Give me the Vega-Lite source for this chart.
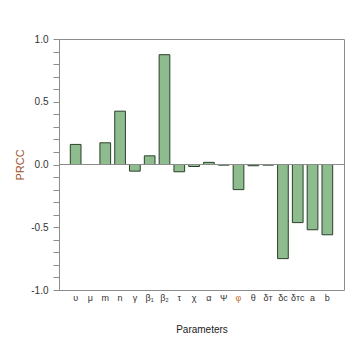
{
  "$schema": "https://vega.github.io/schema/vega-lite/v6.json",
  "width": 285,
  "height": 251,
  "autosize": {"type": "none"},
  "padding": {"left": 59, "top": 39, "right": 11, "bottom": 58},
  "background": "white",
  "config": {
    "view": {"stroke": "#8c8c8c", "strokeWidth": 1},
    "font": "Liberation Sans",
    "axis": {"labelFont": "Liberation Sans", "titleFont": "Liberation Sans", "grid": false}
  },
  "data": {
    "values": [
      {"param": "υ", "prcc": 0.16},
      {"param": "μ", "prcc": 0.0},
      {"param": "m", "prcc": 0.173},
      {"param": "n", "prcc": 0.425},
      {"param": "γ", "prcc": -0.053},
      {"param": "β₁", "prcc": 0.069},
      {"param": "β₂", "prcc": 0.875},
      {"param": "τ", "prcc": -0.058},
      {"param": "χ", "prcc": -0.016},
      {"param": "α", "prcc": 0.017},
      {"param": "Ψ", "prcc": -0.005},
      {"param": "φ", "prcc": -0.2},
      {"param": "θ", "prcc": -0.01},
      {"param": "δᴛ", "prcc": -0.005},
      {"param": "δᴄ", "prcc": -0.75},
      {"param": "δᴛᴄ", "prcc": -0.463},
      {"param": "a", "prcc": -0.52},
      {"param": "b", "prcc": -0.56}
    ]
  },
  "layer": [
    {
      "mark": {"type": "bar", "fill": "#8fbc8f", "stroke": "#2a402a", "strokeWidth": 1, "width": {"band": 0.85}},
      "encoding": {
        "x": {
          "field": "param", "type": "nominal", "sort": null,
          "scale": {"paddingInner": 0.15, "paddingOuter": 0.7},
          "axis": {
            "title": "Parameters", "labelAngle": 0, "ticks": false, "domain": false,
            "labelFontSize": 9, "labelOverlap": false,
            "labelColor": {"condition": {"test": "datum.value === 'φ'", "value": "#c07030"}, "value": "#333333"},
            "labelPadding": 3, "titleFontSize": 10, "titleFontWeight": "normal", "titleColor": "#222222", "titlePadding": 22
          }
        },
        "y": {
          "field": "prcc", "type": "quantitative",
          "scale": {"domain": [-1, 1], "nice": false},
          "axis": {
            "title": "PRCC",
            "values": [-1, -0.9, -0.8, -0.7, -0.6, -0.5, -0.4, -0.3, -0.2, -0.1, 0, 0.1, 0.2, 0.3, 0.4, 0.5, 0.6, 0.7, 0.8, 0.9, 1],
            "tickCount": 30,
            "labelOverlap": false,
            "labelExpr": "indexof([1, 0.5, 0, -0.5, -1], datum.value) >= 0 ? (datum.value < 0 ? '-' : '') + format(abs(datum.value), '.1f') : ''",
            "tickSize": 6, "tickColor": "#8c8c8c", "domainColor": "#8c8c8c",
            "labelFontSize": 10, "labelColor": "#333333", "labelPadding": 5,
            "titleFontSize": 11, "titleFontWeight": "normal", "titleColor": "#a0522d", "titlePadding": 5
          }
        }
      }
    },
    {
      "mark": {"type": "rule", "color": "#8c8c8c", "strokeWidth": 1},
      "encoding": {"y": {"datum": 0, "type": "quantitative"}}
    }
  ]
}
